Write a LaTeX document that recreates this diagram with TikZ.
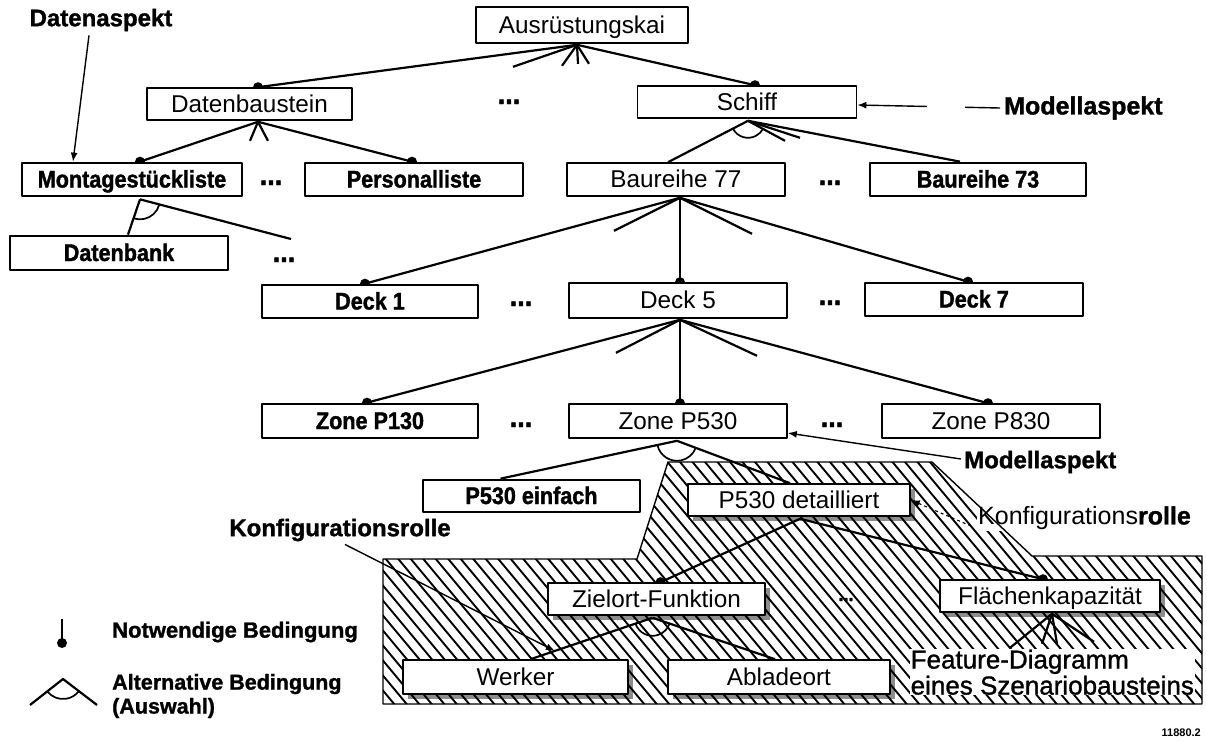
\documentclass[tikz,border=0pt]{standalone}
\usepackage{fontspec}
\setmainfont{Liberation Sans}
\newfontfamily\heavy{Liberation Sans}[FakeStretch=0.9,FakeBold=1.5]
\newfontfamily\semi{Liberation Sans}[FakeBold=1.2]
\newfontfamily\lblfont{Liberation Sans}[FakeBold=1.3]
\usetikzlibrary{arrows.meta,calc,shadows}
\pgfdeclarelayer{paper}
\pgfdeclarelayer{back}
\pgfsetlayers{paper,back,main}
\newcommand\altarc[4]{\draw[link,line width=1.7pt] ([shift={(#2:#4)}]#1) arc[start angle=#2,end angle=#3,radius=#4];}
\begin{document}
\begin{tikzpicture}[x=1pt,y=-1pt,line join=round,
  feat/.style={draw,line width=1.6pt,fill=white,inner sep=0pt,minimum width=218pt,minimum height=33pt,text height=17pt,text depth=1pt,font=\fontsize{24.3}{26}\selectfont},
  featb/.style={feat,line width=2.7pt,font=\fontsize{24}{26}\selectfont\heavy\bfseries},
  boxshadow/.style={drop shadow={shadow xshift=5pt,shadow yshift=-5pt,fill=black,opacity=0.45}},
  lbl/.style={inner sep=0pt,font=\fontsize{24}{26}\selectfont\lblfont\bfseries},
  moredots/.style={inner sep=0pt,anchor=base,font=\fontsize{30}{30}\selectfont\heavy\bfseries},
  link/.style={line width=2.2pt},
  pointer/.style={line width=1.4pt,-{Latex[length=9pt,width=7pt]}},
  outline/.style={line width=1.4pt},
]
\begin{pgfonlayer}{paper}
  \fill[white] (0,0) rectangle (1207,742);
\end{pgfonlayer}
\useasboundingbox (0,0) rectangle (1207,742);

% ---------------- feature boxes
\node[feat,minimum width=212pt,minimum height=36pt] (aus) at (582,25) {Ausrüstungskai};
\node[feat,minimum width=205pt,minimum height=32pt] (dbs) at (249.5,104) {Datenbaustein};
\node[feat,minimum width=219pt,minimum height=32pt] (schiff) at (747,102) {Schiff};
\node[featb,minimum width=220pt] (mont) at (132,179.5) {Montagestückliste};
\node[featb] (pers) at (414,179.5) {Personalliste};
\node[feat] (br77) at (676,179.5) {Baureihe 77};
\node[featb,minimum width=216pt] (br73) at (978,179.5) {Baureihe 73};
\node[featb,minimum height=34pt] (dbank) at (119,253) {Datenbank};
\node[featb,minimum width=216pt] (deck1) at (370,301.5) {Deck 1};
\node[feat,minimum height=35pt] (deck5) at (678,300.5) {Deck 5};
\node[featb] (deck7) at (974,299.5) {Deck 7};
\node[featb,minimum width=216pt,minimum height=34pt] (z130) at (370,421) {Zone P130};
\node[feat,minimum height=34pt] (z530) at (678,421) {Zone P530};
\node[feat,minimum height=34pt] (z830) at (991,421) {Zone P830};
\node[featb,minimum width=217pt,minimum height=32pt] (p530e) at (531.5,496) {P530 einfach};
\node[feat,boxshadow,minimum width=222pt,minimum height=32pt] (p530d) at (799,500) {P530 detailliert};
\node[feat,boxshadow,minimum width=217pt,minimum height=32pt] (ziel) at (656.5,599) {Zielort-Funktion};
\node[feat,boxshadow,minimum width=220pt,minimum height=32pt] (flaech) at (1050,596) {Flächenkapazität};
\node[feat,boxshadow,minimum width=225pt,minimum height=34pt] (werker) at (515.5,677) {Werker};
\node[feat,boxshadow,minimum width=222pt,minimum height=34pt] (ablade) at (779,677) {Abladeort};

% ---------------- further siblings
\node[moredots] (m1) at (509,104) {...};
\node[moredots] (m2) at (271,185) {...};
\node[moredots] (m3) at (830,185) {...};
\node[moredots] (m4) at (284,262) {...};
\node[moredots] (m5) at (521,306) {...};
\node[moredots] (m6) at (830,305) {...};
\node[moredots] (m7) at (521,427) {...};
\node[moredots] (m8) at (832,427) {...};
\node[moredots,font=\fontsize{20}{20}\selectfont\heavy\bfseries] (m9) at (846,601) {...};

% ---------------- labels
\node[lbl] (lDA) at (101,20) {Datenaspekt};
\node[lbl,anchor=west,font=\fontsize{25}{26}\selectfont\lblfont\bfseries] (lMA1) at (1004,108) {Modellaspekt};
\node[lbl,anchor=west] (lMA2) at (964,462) {Modellaspekt};
\node[lbl] (lKR1) at (340,530) {Konfigurationsrolle};
\node[inner sep=1pt,anchor=west,fill=white,font=\fontsize{25}{26}\selectfont] (lKR2) at (977,518) {Konfigurations{\lblfont\bfseries rolle}};
\node[inner sep=0.5pt,anchor=north west,fill=white,align=left,font=\fontsize{26}{26}\selectfont\semi] (lFD) at (910,649) {Feature-Diagramm\\eines Szenariobausteins};
\node[lbl,anchor=west,font=\fontsize{22}{26}\selectfont\lblfont\bfseries] (lgN) at (112,632) {Notwendige Bedingung};
\node[lbl,anchor=west,align=left,font=\fontsize{21.5}{24}\selectfont\lblfont\bfseries] (lgA) at (112,696) {Alternative Bedingung\\(Auswahl)};
\node[anchor=east,inner sep=0pt,font=\fontsize{11}{12}\selectfont\bfseries] (num) at (1201,733) {11880.2};

% ---------------- fan vertices under the parents
\coordinate (vA) at ([xshift=-5pt,yshift=-1pt]aus.south);
\coordinate (vB) at ([xshift=8.5pt,yshift=-1pt]dbs.south);
\coordinate (vC) at ([xshift=1pt,yshift=-2pt]schiff.south);
\coordinate (vD) at ([xshift=8pt,yshift=-2pt]mont.south);
\coordinate (vE) at ([xshift=4pt,yshift=-1pt]br77.south);
\coordinate (vF) at ([xshift=2pt,yshift=-1pt]deck5.south);
\coordinate (vG) at ([xshift=-1pt,yshift=-2pt]z530.south);
\coordinate (vH) at ([xshift=1pt,yshift=-2pt]p530d.south);
\coordinate (vI) at ([xshift=-4pt,yshift=-2pt]ziel.south);
\coordinate (vJ) at ([xshift=2pt,yshift=-1pt]flaech.south);

% ---------------- attachment points on the children
\coordinate (tDbs) at ([xshift=8.5pt]dbs.north);
\coordinate (tSchiff) at ([xshift=8pt]schiff.north);
\coordinate (tMont) at ([xshift=8pt]mont.north);
\coordinate (tPers) at ([xshift=-2pt]pers.north);
\coordinate (tBr77) at ([xshift=-8pt]br77.north);
\coordinate (tBr73) at ([xshift=-18pt]br73.north);
\coordinate (tDbank) at ([xshift=9pt]dbank.north);
\coordinate (tMore) at (291,239);
\coordinate (tDeck1) at ([xshift=-5pt]deck1.north);
\coordinate (tDeck5) at ([xshift=2pt]deck5.north);
\coordinate (tDeck7) at ([xshift=-6pt]deck7.north);
\coordinate (tZ130) at ([xshift=-3pt]z130.north);
\coordinate (tZ530) at ([xshift=2pt]z530.north);
\coordinate (tZ830) at ([xshift=-3pt]z830.north);
\coordinate (tP530e) at ([xshift=-31pt]p530e.north);
\coordinate (tP530d) at ([xshift=-9pt]p530d.north);
\coordinate (tZiel) at ([xshift=4pt]ziel.north);
\coordinate (tFlaech) at ([xshift=-7pt]flaech.north);
\coordinate (tWerker) at ([xshift=15pt]werker.north);
\coordinate (tAblade) at ([xshift=-4pt]ablade.north);
\coordinate (kA) at ($(vI)!0.8!(tWerker)$);

\begin{pgfonlayer}{back}
  % hatched scenario block
  \begin{scope}
    \clip (383,559) -- (637,559) -- (668,462) -- (932,462) -- (1032,556) -- (1202,556) -- (1202,704) -- (383,704) -- cycle;
    \foreach \k in {0,...,84} \draw[line width=1.9pt] ({170+12.5*\k},450) -- ++(220,264);
  \end{scope}

  % Ausrüstungskai
  \draw[link] (vA) -- (tDbs);  \fill (tDbs) circle (5pt);
  \draw[link] (vA) -- (tSchiff);  \fill (tSchiff) circle (5pt);
  \draw[link] (vA) -- ++(-64,22);
  \draw[link] (vA) -- ++(-15,21);
  \draw[link] (vA) -- ++(1,19);
  \draw[link] (vA) -- ++(12,19);
  % Datenbaustein
  \draw[link] (vB) -- (tMont);  \fill (tMont) circle (5pt);
  \draw[link] (vB) -- (tPers);  \fill (tPers) circle (5pt);
  \draw[link] (vB) -- ++(-8,19);
  \draw[link] (vB) -- ++(10,19);
  % Schiff (alternative)
  \draw[link] (vC) -- (tBr77);
  \draw[link] (vC) -- (tBr73);
  \draw[link] (vC) -- ++(37,20);
  \draw[link] (vC) -- ++(52,17);
  \altarc{vC}{208}{332}{17pt}
  % Montagestückliste (alternative)
  \draw[link] (vD) -- (tDbank);
  \draw[link] (vD) -- (tMore);
  \altarc{vD}{252.5}{344.8}{20pt}
  % Baureihe 77
  \draw[link] (vE) -- (tDeck1);  \fill (tDeck1) circle (5pt);
  \draw[link] (vE) -- (tDeck5);  \fill (tDeck5) circle (5pt);
  \draw[link] (vE) -- (tDeck7);  \fill (tDeck7) circle (5pt);
  \draw[link] (vE) -- ++(-66,33);
  \draw[link] (vE) -- ++(72,36);
  % Deck 5
  \draw[link] (vF) -- (tZ130);  \fill (tZ130) circle (5pt);
  \draw[link] (vF) -- (tZ530);  \fill (tZ530) circle (5pt);
  \draw[link] (vF) -- (tZ830);  \fill (tZ830) circle (5pt);
  \draw[link] (vF) -- ++(-64,33);
  \draw[link] (vF) -- ++(77,36);
  % Zone P530 (alternative)
  \draw[link] (vG) -- (tP530e);
  \draw[link] (vG) -- (tP530d);
  \altarc{vG}{192.8}{338.7}{20pt}
  % P530 detailliert
  \draw[link] (vH) -- (tZiel);  \fill (tZiel) circle (5pt);
  \draw[link] (vH) -- (tFlaech);  \fill (tFlaech) circle (5pt);
  % Zielort-Funktion (alternative)
  \draw[link] (vI) -- (tWerker);
  \draw[link] (vI) -- (tAblade);
  \altarc{vI}{199.4}{340.7}{18pt}
  % Flächenkapazität
  \draw[link] (vJ) -- ++(-42,34);
  \draw[link] (vJ) -- ++(-10,30);
  \draw[link] (vJ) -- ++(5,30);
  \draw[link] (vJ) -- ++(42,28);

  % pointers from the labels
  \draw[pointer] ([xshift=-12pt,yshift=-4pt]lDA.south) -- ([xshift=-59pt]mont.north);
  \draw[pointer,dash pattern=on 35pt off 38pt on 300pt] ([xshift=-4pt]lMA1.west) -- ([yshift=-3pt]schiff.east);
  \draw[pointer] ([xshift=-3pt,yshift=3pt]lMA2.west) -- ([yshift=-12pt]z530.east);
  \draw[pointer] ([xshift=5pt,yshift=-3pt]lKR1.south) -- (kA);
  \draw[pointer,dashed,line width=1.1pt] ([xshift=-6pt,yshift=-8pt]lKR2.west) -- (p530d.east);

  % legend symbols
  \coordinate (lgNtop) at (62,619);
  \coordinate (lgNend) at (62,643);
  \draw[line width=2.8pt] (lgNtop) -- (lgNend);
  \fill (lgNend) circle (5pt);
  \coordinate (lgApex) at (63,679);
  \draw[link] (30,705) -- (lgApex) -- (97,705);
  \altarc{lgApex}{218.2}{322.6}{20pt}
\end{pgfonlayer}

% outline of the scenario block, kept above the label backgrounds
\draw[outline] (383,559) -- (637,559) -- (668,462) -- (932,462) -- (1032,556) -- (1202,556) -- (1202,704) -- (383,704) -- cycle;
\end{tikzpicture}
\end{document}
